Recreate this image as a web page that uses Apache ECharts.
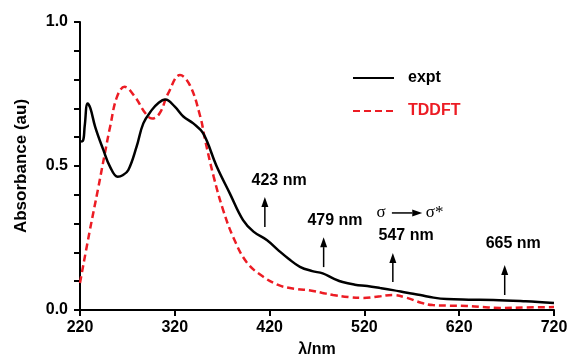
<!DOCTYPE html>
<html>
<head>
<meta charset="utf-8">
<script src="https://cdn.jsdelivr.net/npm/echarts@6/dist/echarts.min.js"></script>
<style>
  html, body { margin: 0; padding: 0; background: #fff; }
  #chart { width: 576px; height: 359px; }
</style>
</head>
<body>
<div id="chart"></div>
<script>
// experimental spectrum (wavelength nm, absorbance)
const exptX = [220, 223, 225, 228, 231, 236, 244.6, 251.6, 259.7, 265, 271, 279.7, 286.8, 295.6, 303, 310, 320, 329, 339.5, 350, 364, 378, 392, 403, 417, 429, 440, 452, 465, 476, 487, 497, 510, 523, 537, 550, 565, 579, 593, 607, 630, 656, 690, 720];
const exptY = [0.585, 0.587, 0.64, 0.717, 0.70, 0.636, 0.556, 0.498, 0.463, 0.468, 0.486, 0.567, 0.648, 0.694, 0.72, 0.731, 0.706, 0.672, 0.648, 0.613, 0.50, 0.405, 0.312, 0.272, 0.243, 0.208, 0.178, 0.15, 0.135, 0.127, 0.11, 0.097, 0.088, 0.083, 0.076, 0.069, 0.06, 0.052, 0.043, 0.038, 0.036, 0.035, 0.03, 0.024];

// TDDFT simulated spectrum
const tdX = [220, 230, 239, 246, 252, 259, 267, 278, 289, 296, 304, 313, 325.5, 336, 347, 352, 361, 371, 382, 396, 413, 429, 440, 450, 463, 475, 487, 503, 519, 535, 550, 565, 580, 592, 610, 628, 645, 663, 690, 720];
const tdY = [0.094, 0.27, 0.42, 0.54, 0.64, 0.74, 0.775, 0.74, 0.683, 0.665, 0.683, 0.752, 0.816, 0.78, 0.67, 0.59, 0.463, 0.347, 0.25, 0.165, 0.116, 0.087, 0.077, 0.072, 0.068, 0.06, 0.052, 0.045, 0.042, 0.047, 0.052, 0.042, 0.025, 0.017, 0.015, 0.014, 0.01, 0.007, 0.009, 0.01];

// annotation arrows: x0, y0 -> x1, y1
const arrowX0 = [415, 477, 550, 668, 549];
const arrowY0 = [0.288, 0.149, 0.097, 0.052, 0.337];
const arrowX1 = [415, 477, 550, 668, 581];
const arrowY1 = [0.392, 0.253, 0.198, 0.156, 0.337];

// annotation labels: x, y, text
const noteX = [430, 489, 564, 677];
const noteY = [0.451, 0.309, 0.257, 0.229];
const noteText = ['423 nm', '479 nm', '547 nm', '665 nm'];

const sigmaX = [537.5, 594];
const sigmaY = [0.337, 0.337];
const sigmaText = ['σ', 'σ*'];

const FONT = 'Liberation Sans';
const RED = '#ec1c24';

const expt = exptX.map((x, i) => [x, exptY[i]]);
const tddft = tdX.map((x, i) => [x, tdY[i]]);
const arrows = arrowX0.map((x, i) => [x, arrowY0[i], arrowX1[i], arrowY1[i]]);
const notes = noteX.map((x, i) => ({ value: [x, noteY[i]], name: noteText[i] }));
const sigmaNotes = sigmaX.map((x, i) => ({ value: [x, sigmaY[i]], name: sigmaText[i] }));

// arrow: shaft + filled head, positioned through the axes
function renderArrow(params, api) {
  const p0 = api.coord([api.value(0), api.value(1)]);
  const p1 = api.coord([api.value(2), api.value(3)]);
  const dx = p1[0] - p0[0], dy = p1[1] - p0[1];
  const len = Math.sqrt(dx * dx + dy * dy);
  const ux = dx / len, uy = dy / len;
  const headL = 10, headW = 3.5;
  const bx = p1[0] - ux * headL, by = p1[1] - uy * headL;
  return {
    type: 'group',
    children: [
      {
        type: 'line',
        shape: { x1: p0[0], y1: p0[1], x2: bx, y2: by },
        style: { stroke: '#000', lineWidth: 1.5 }
      },
      {
        type: 'polygon',
        shape: { points: [
          [p1[0], p1[1]],
          [bx - uy * headW, by + ux * headW],
          [bx + uy * headW, by - ux * headW]
        ] },
        style: { fill: '#000' }
      }
    ]
  };
}

const chart = echarts.init(document.getElementById('chart'));
chart.setOption({
  animation: false,
  grid: { left: 80, right: 22, top: 22, bottom: 49, outerBoundsMode: 'none', containLabel: false },
  legend: {
    orient: 'vertical',
    left: 347,
    top: 65,
    itemWidth: 41,
    itemHeight: 14,
    itemGap: 17,
    itemStyle: { color: 'rgba(0,0,0,0)', borderWidth: 0 },
    textStyle: { fontFamily: FONT, fontWeight: 'bold', fontSize: 16, padding: [0, 0, 0, 9] },
    data: [
      { name: 'expt', textStyle: { color: '#000' } },
      { name: 'TDDFT', textStyle: { color: RED } }
    ]
  },
  xAxis: {
    type: 'value',
    min: 220,
    max: 720,
    interval: 100,
    name: 'λ/nm',
    nameLocation: 'middle',
    nameGap: 32,
    nameTextStyle: { fontFamily: FONT, fontWeight: 'bold', fontSize: 16, color: '#000' },
    axisLine: { show: true, lineStyle: { color: '#000', width: 2 } },
    axisTick: { show: true, length: 6, lineStyle: { color: '#000', width: 2 } },
    axisLabel: { fontFamily: FONT, fontWeight: 'bold', fontSize: 16, color: '#000', margin: 10 },
    splitLine: { show: false }
  },
  yAxis: {
    type: 'value',
    min: 0,
    max: 1,
    interval: 0.1,
    name: 'Absorbance (au)',
    nameLocation: 'middle',
    nameGap: 50,
    nameTextStyle: { fontFamily: FONT, fontWeight: 'bold', fontSize: 17, color: '#000' },
    axisLine: { show: true, lineStyle: { color: '#000', width: 2 } },
    axisTick: { show: true, length: 6, lineStyle: { color: '#000', width: 2 } },
    axisLabel: {
      fontFamily: FONT, fontWeight: 'bold', fontSize: 16, color: '#000', margin: 12,
      formatter: v => {
        const t = Math.round(v * 10);
        return t % 5 === 0 ? (t / 10).toFixed(1) : '';
      }
    },
    splitLine: { show: false }
  },
  series: [
    {
      name: 'expt',
      type: 'line',
      data: expt,
      smooth: 0.4,
      symbol: 'none',
      z: 3,
      itemStyle: { color: '#000' },
      lineStyle: { color: '#000', width: 2.5 }
    },
    {
      name: 'TDDFT',
      type: 'line',
      data: tddft,
      smooth: 0.4,
      symbol: 'none',
      z: 2,
      itemStyle: { color: RED },
      lineStyle: { color: RED, width: 2.5, type: [7, 4] }
    },
    {
      name: 'arrows',
      type: 'custom',
      silent: true,
      data: arrows,
      renderItem: renderArrow,
      encode: { x: [0, 2], y: [1, 3] }
    },
    {
      name: 'notes',
      type: 'scatter',
      data: notes,
      symbolSize: 0,
      silent: true,
      itemStyle: { opacity: 1, color: '#000' },
      label: {
        show: true, position: 'inside', formatter: '{b}',
        fontFamily: FONT, fontWeight: 'bold', fontSize: 16, color: '#000'
      }
    },
    {
      name: 'sigma',
      type: 'scatter',
      data: sigmaNotes,
      symbolSize: 0,
      silent: true,
      itemStyle: { opacity: 1, color: '#000' },
      label: {
        show: true, position: 'inside', formatter: '{b}',
        fontFamily: 'Liberation Serif', fontSize: 17, color: '#000'
      }
    }
  ]
});
</script>
</body>
</html>
